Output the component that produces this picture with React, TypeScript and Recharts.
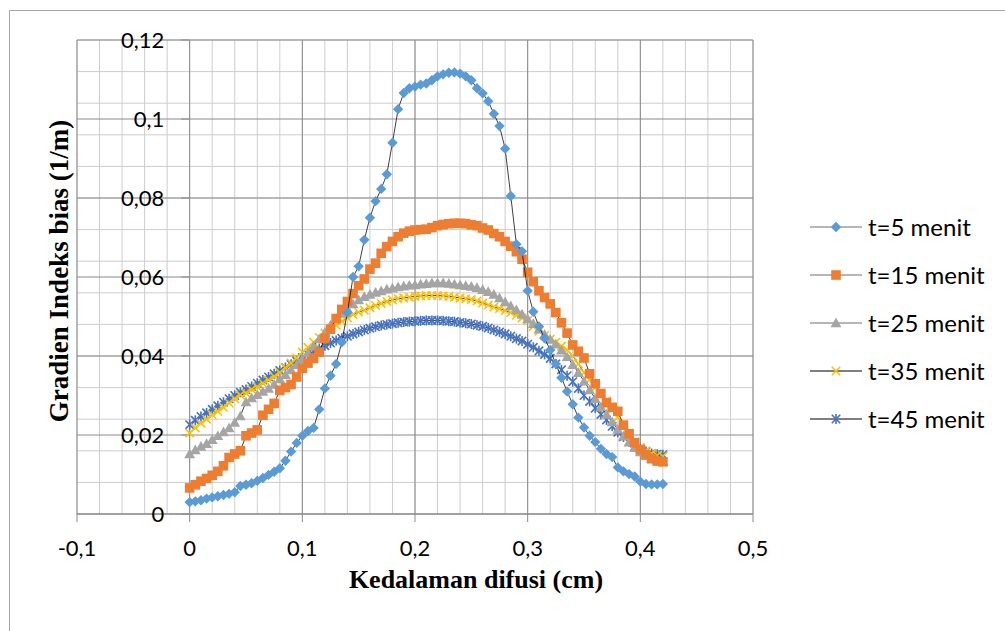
import React from 'react';
import { ScatterChart, Scatter, XAxis, YAxis, CartesianGrid, ReferenceLine } from 'recharts';

// Depth (cm)
const DEPTH = [
  0, 0.005, 0.01, 0.015, 0.02, 0.025, 0.03, 0.035, 0.04, 0.045,
  0.05, 0.055, 0.06, 0.065, 0.07, 0.075, 0.08, 0.085, 0.09, 0.095,
  0.1, 0.105, 0.11, 0.115, 0.12, 0.125, 0.13, 0.135, 0.14, 0.145,
  0.15, 0.155, 0.16, 0.165, 0.17, 0.175, 0.18, 0.185, 0.19, 0.195,
  0.2, 0.205, 0.21, 0.215, 0.22, 0.225, 0.23, 0.235, 0.24, 0.245,
  0.25, 0.255, 0.26, 0.265, 0.27, 0.275, 0.28, 0.285, 0.29, 0.295,
  0.3, 0.305, 0.31, 0.315, 0.32, 0.325, 0.33, 0.335, 0.34, 0.345,
  0.35, 0.355, 0.36, 0.365, 0.37, 0.375, 0.38, 0.385, 0.39, 0.395,
  0.4, 0.405, 0.41, 0.415, 0.42,
];

const T5 = [
  0.003, 0.0032, 0.0035, 0.0039, 0.0042, 0.0045, 0.0048, 0.0051, 0.0055, 0.0071,
  0.0074, 0.0078, 0.0084, 0.0091, 0.0099, 0.0107, 0.0116, 0.0135, 0.0158, 0.018,
  0.0198, 0.021, 0.0218, 0.0265, 0.0318, 0.035, 0.038, 0.0435, 0.051, 0.06,
  0.0627, 0.0694, 0.075, 0.0792, 0.0823, 0.086, 0.094, 0.1025, 0.1066, 0.1078,
  0.1082, 0.1087, 0.109, 0.1098, 0.1108, 0.1113, 0.1117, 0.1118, 0.1115, 0.1108,
  0.1098, 0.1078, 0.1065, 0.1045, 0.1013, 0.0982, 0.0925, 0.0805, 0.0683, 0.0665,
  0.0565, 0.0512, 0.0475, 0.0445, 0.0415, 0.038, 0.0345, 0.031, 0.0278, 0.0244,
  0.0219, 0.0198, 0.0182, 0.0165, 0.0152, 0.0144, 0.0118, 0.0108, 0.0101, 0.0095,
  0.0082, 0.0076, 0.0075, 0.0075, 0.0076,
];

const T15 = [
  0.0066, 0.0074, 0.0083, 0.009, 0.0098, 0.0108, 0.0122, 0.0143, 0.0152, 0.016,
  0.0198, 0.0205, 0.0213, 0.025, 0.0265, 0.028, 0.0313, 0.032, 0.0328, 0.0347,
  0.0369, 0.0382, 0.0394, 0.041, 0.0445, 0.0468, 0.0495, 0.0518, 0.0538, 0.0558,
  0.0578, 0.0595, 0.062, 0.0635, 0.066, 0.0677, 0.069, 0.0702, 0.0711, 0.0716,
  0.0719, 0.072, 0.0721, 0.0725, 0.073, 0.0733, 0.0735, 0.0736, 0.0736, 0.0735,
  0.0732, 0.073, 0.0724, 0.0719, 0.071, 0.0702, 0.069, 0.0678, 0.0664, 0.0645,
  0.0612, 0.0588, 0.0565, 0.0548, 0.0532, 0.051, 0.0484, 0.0458, 0.0428, 0.0412,
  0.0395, 0.0355, 0.033, 0.0305, 0.0282, 0.027, 0.026, 0.0225, 0.0203, 0.018,
  0.0163, 0.015, 0.014, 0.0134, 0.0132,
];

const T25 = [
  0.0152, 0.0162, 0.0171, 0.0178, 0.0188, 0.0198, 0.0208, 0.0218, 0.0232, 0.0248,
  0.0284, 0.0294, 0.0302, 0.031, 0.0318, 0.0328, 0.0342, 0.0353, 0.0365, 0.0378,
  0.0392, 0.0408, 0.0425, 0.0443, 0.046, 0.0478, 0.0494, 0.0508, 0.052, 0.0532,
  0.0542, 0.055, 0.0556, 0.0561, 0.0565, 0.0569, 0.0572, 0.0575, 0.0577, 0.0579,
  0.058, 0.0582, 0.0583, 0.0585, 0.0585, 0.0585, 0.0584, 0.0582, 0.058, 0.0578,
  0.0576, 0.0573, 0.0568, 0.0563, 0.0556, 0.0547, 0.0537, 0.0527, 0.0517, 0.0506,
  0.0494, 0.0482, 0.0468, 0.0455, 0.0442, 0.043, 0.0415, 0.0398, 0.0378, 0.0358,
  0.0336, 0.0314, 0.0292, 0.0271, 0.0252, 0.0233, 0.0214, 0.0197, 0.0182, 0.0168,
  0.0157, 0.0148, 0.0141, 0.0137, 0.0134,
];

const T35 = [
  0.0205, 0.0218, 0.023, 0.024, 0.0251, 0.026, 0.027, 0.0281, 0.0292, 0.0301,
  0.0306, 0.0315, 0.0322, 0.0331, 0.0339, 0.0348, 0.0358, 0.037, 0.0382, 0.0395,
  0.041, 0.0422, 0.0435, 0.0447, 0.0458, 0.0468, 0.0478, 0.0488, 0.0497, 0.0505,
  0.0511, 0.0516, 0.0522, 0.0528, 0.0533, 0.0538, 0.0542, 0.0545, 0.0547, 0.0549,
  0.0551, 0.0552, 0.0553, 0.0553, 0.0553, 0.0552, 0.0551, 0.0549, 0.0547, 0.0545,
  0.0543, 0.0539, 0.0534, 0.0529, 0.0524, 0.052, 0.0515, 0.051, 0.0503, 0.0496,
  0.049, 0.0475, 0.0463, 0.0452, 0.0443, 0.0435, 0.0425, 0.0415, 0.04, 0.038,
  0.0358, 0.034, 0.032, 0.0305, 0.0286, 0.0265, 0.0245, 0.0225, 0.0205, 0.0183,
  0.0168, 0.016, 0.0153, 0.0148, 0.0146,
];

const T45 = [
  0.0226, 0.0237, 0.0247, 0.0256, 0.0265, 0.0274, 0.0283, 0.0292, 0.03, 0.0308,
  0.0315, 0.0323, 0.0331, 0.0339, 0.0347, 0.0355, 0.0363, 0.0371, 0.0379, 0.0387,
  0.0396, 0.0404, 0.0412, 0.0419, 0.0426, 0.0433, 0.0439, 0.0445, 0.045, 0.0456,
  0.0461, 0.0466, 0.047, 0.0474, 0.0477, 0.048, 0.0482, 0.0484, 0.0486, 0.0487,
  0.0488, 0.0489, 0.049, 0.049, 0.049, 0.0489, 0.0488, 0.0487, 0.0485, 0.0483,
  0.0481, 0.0478, 0.0475, 0.0471, 0.0466, 0.0461, 0.0456, 0.045, 0.0444, 0.0438,
  0.043, 0.0422, 0.0413, 0.0404, 0.0394, 0.038, 0.0365, 0.035, 0.0335, 0.0318,
  0.03, 0.0285, 0.0268, 0.0252, 0.0238, 0.0222, 0.0207, 0.0195, 0.0183, 0.0172,
  0.0164, 0.0158, 0.0153, 0.0151, 0.015,
];

const X_TICKS = [-0.1, 0, 0.1, 0.2, 0.3, 0.4, 0.5];
const X_MINOR_TICKS = [
  -0.1, -0.08, -0.06, -0.04, -0.02, 0, 0.02, 0.04, 0.06, 0.08, 0.1, 0.12, 0.14, 0.16, 0.18,
  0.2, 0.22, 0.24, 0.26, 0.28, 0.3, 0.32, 0.34, 0.36, 0.38, 0.4, 0.42, 0.44, 0.46, 0.48, 0.5,
];
const Y_TICKS = [0, 0.02, 0.04, 0.06, 0.08, 0.1, 0.12];
const Y_MINOR_TICKS = [
  0, 0.004, 0.008, 0.012, 0.016, 0.02, 0.024, 0.028, 0.032, 0.036, 0.04, 0.044, 0.048,
  0.052, 0.056, 0.06, 0.064, 0.068, 0.072, 0.076, 0.08, 0.084, 0.088, 0.092, 0.096, 0.1,
  0.104, 0.108, 0.112, 0.116, 0.12,
];

const SERIES_NAMES = ['t=5 menit', 't=15 menit', 't=25 menit', 't=35 menit', 't=45 menit'];
const SERIES_VALUES = [T5, T15, T25, T35, T45];
const SERIES_COLORS = ['#5B9BD5', '#ED7D31', '#A5A5A5', '#FFC000', '#4472C4'];
const SERIES_MARKERS = ['diamond', 'square', 'triangle', 'x', 'star'];
const LEGEND_LINE_COLORS = ['#6e6e6e', '#6e6e6e', '#6e6e6e', '#000000', '#000000'];

const TICK_FONT = 'Lato, "Open Sans", sans-serif';
const TITLE_FONT = '"Liberation Serif", "DejaVu Serif", serif';
const GRID_MINOR = '#cdcdcd';
const GRID_MAJOR = '#8a8a8a';

const fmt = (v: number) => String(v).replace('.', ',');

function Marker({ kind, cx, cy, color }: { kind: string; cx: number; cy: number; color: string }) {
  if (cx == null || cy == null || isNaN(cx) || isNaN(cy)) return null;
  switch (kind) {
    case 'diamond': {
      const r = 5.2;
      return <polygon points={`${cx},${cy - r} ${cx + r},${cy} ${cx},${cy + r} ${cx - r},${cy}`} fill={color} />;
    }
    case 'square':
      return <rect x={cx - 4.8} y={cy - 4.8} width={9.6} height={9.6} fill={color} />;
    case 'triangle': {
      const r = 5.4;
      return <polygon points={`${cx},${cy - r} ${cx + r},${cy + r * 0.8} ${cx - r},${cy + r * 0.8}`} fill={color} />;
    }
    case 'x': {
      const r = 4.2;
      return (
        <g stroke={color} strokeWidth={1.6}>
          <line x1={cx - r} y1={cy - r} x2={cx + r} y2={cy + r} />
          <line x1={cx - r} y1={cy + r} x2={cx + r} y2={cy - r} />
        </g>
      );
    }
    default: {
      const r = 4.2;
      return (
        <g stroke={color} strokeWidth={1.6}>
          <line x1={cx - r} y1={cy - r} x2={cx + r} y2={cy + r} />
          <line x1={cx - r} y1={cy + r} x2={cx + r} y2={cy - r} />
          <line x1={cx} y1={cy - r - 0.8} x2={cx} y2={cy + r + 0.8} />
        </g>
      );
    }
  }
}

const seriesData = SERIES_VALUES.map((vals) => DEPTH.map((x, i) => ({ x, y: vals[i] })));
// Excel stacks these with the first series on top, so draw in reverse order
const DRAW_ORDER = [4, 3, 2, 1, 0];

export default function App() {
  return (
    <div style={{ position: 'absolute', left: 0, top: 0, width: 1005, height: 631, background: '#fff', overflow: 'hidden' }}>
      <ScatterChart width={1005} height={631} margin={{ top: 40, right: 252, bottom: 57, left: 77 }}>
        <XAxis
          type="number"
          dataKey="x"
          domain={[-0.1, 0.5]}
          ticks={X_TICKS}
          interval={0}
          tickFormatter={fmt}
          height={60}
          tickSize={8}
          tickMargin={18}
          axisLine={{ stroke: GRID_MAJOR }}
          tickLine={{ stroke: GRID_MAJOR }}
          tick={{ fill: '#000', fontSize: 22, fontFamily: TICK_FONT }}
        />
        <YAxis type="number" dataKey="y" domain={[0, 0.12]} ticks={Y_TICKS} hide width={0} />
        <CartesianGrid
          stroke={GRID_MINOR}
          strokeWidth={1}
          horizontalValues={Y_MINOR_TICKS}
          verticalValues={X_MINOR_TICKS}
        />
        <CartesianGrid stroke={GRID_MAJOR} strokeWidth={1} horizontalValues={Y_TICKS} verticalValues={X_TICKS} />
        {Y_TICKS.map((v) => (
          <ReferenceLine
            key={'yt' + v}
            segment={[{ x: -0.0075, y: v }, { x: 0, y: v }]}
            stroke={GRID_MAJOR}
            ifOverflow="visible"
            label={{ value: fmt(v), position: 'left', offset: 17, fill: '#000', fontSize: 22, fontFamily: TICK_FONT }}
          />
        ))}
        {DRAW_ORDER.map((i) => (
          <Scatter
            key={SERIES_NAMES[i]}
            name={SERIES_NAMES[i]}
            data={seriesData[i]}
            fill={SERIES_COLORS[i]}
            line={{ stroke: '#000', strokeWidth: 0.75 }}
            lineJointType="linear"
            isAnimationActive={false}
            shape={(p: any) => <Marker kind={SERIES_MARKERS[i]} cx={p.cx} cy={p.cy} color={SERIES_COLORS[i]} />}
          />
        ))}
      </ScatterChart>
      <svg width={1005} height={631} style={{ position: 'absolute', left: 0, top: 0, pointerEvents: 'none' }}>
        <path d="M9.5 631 V10.5 H1005" fill="none" stroke="#a6a6a6" strokeWidth={1} />
        <text
          x={68}
          y={271}
          transform="rotate(-90 68 271)"
          textAnchor="middle"
          fontFamily={TITLE_FONT}
          fontWeight="bold"
          fontSize={27}
          fill="#000"
        >
          Gradien Indeks bias (1/m)
        </text>
        <text x={476} y={588} textAnchor="middle" fontFamily={TITLE_FONT} fontWeight="bold" fontSize={26} fill="#000">
          Kedalaman difusi (cm)
        </text>
        {SERIES_NAMES.map((name, i) => {
          const cy = 227 + i * 48;
          return (
            <g key={name}>
              <line x1={810} y1={cy} x2={862} y2={cy} stroke={LEGEND_LINE_COLORS[i]} strokeWidth={1.2} />
              <Marker kind={SERIES_MARKERS[i]} cx={836} cy={cy} color={SERIES_COLORS[i]} />
              <text x={868} y={cy + 8.5} fontFamily={TICK_FONT} fontSize={24} fill="#000">
                {name}
              </text>
            </g>
          );
        })}
      </svg>
    </div>
  );
}
